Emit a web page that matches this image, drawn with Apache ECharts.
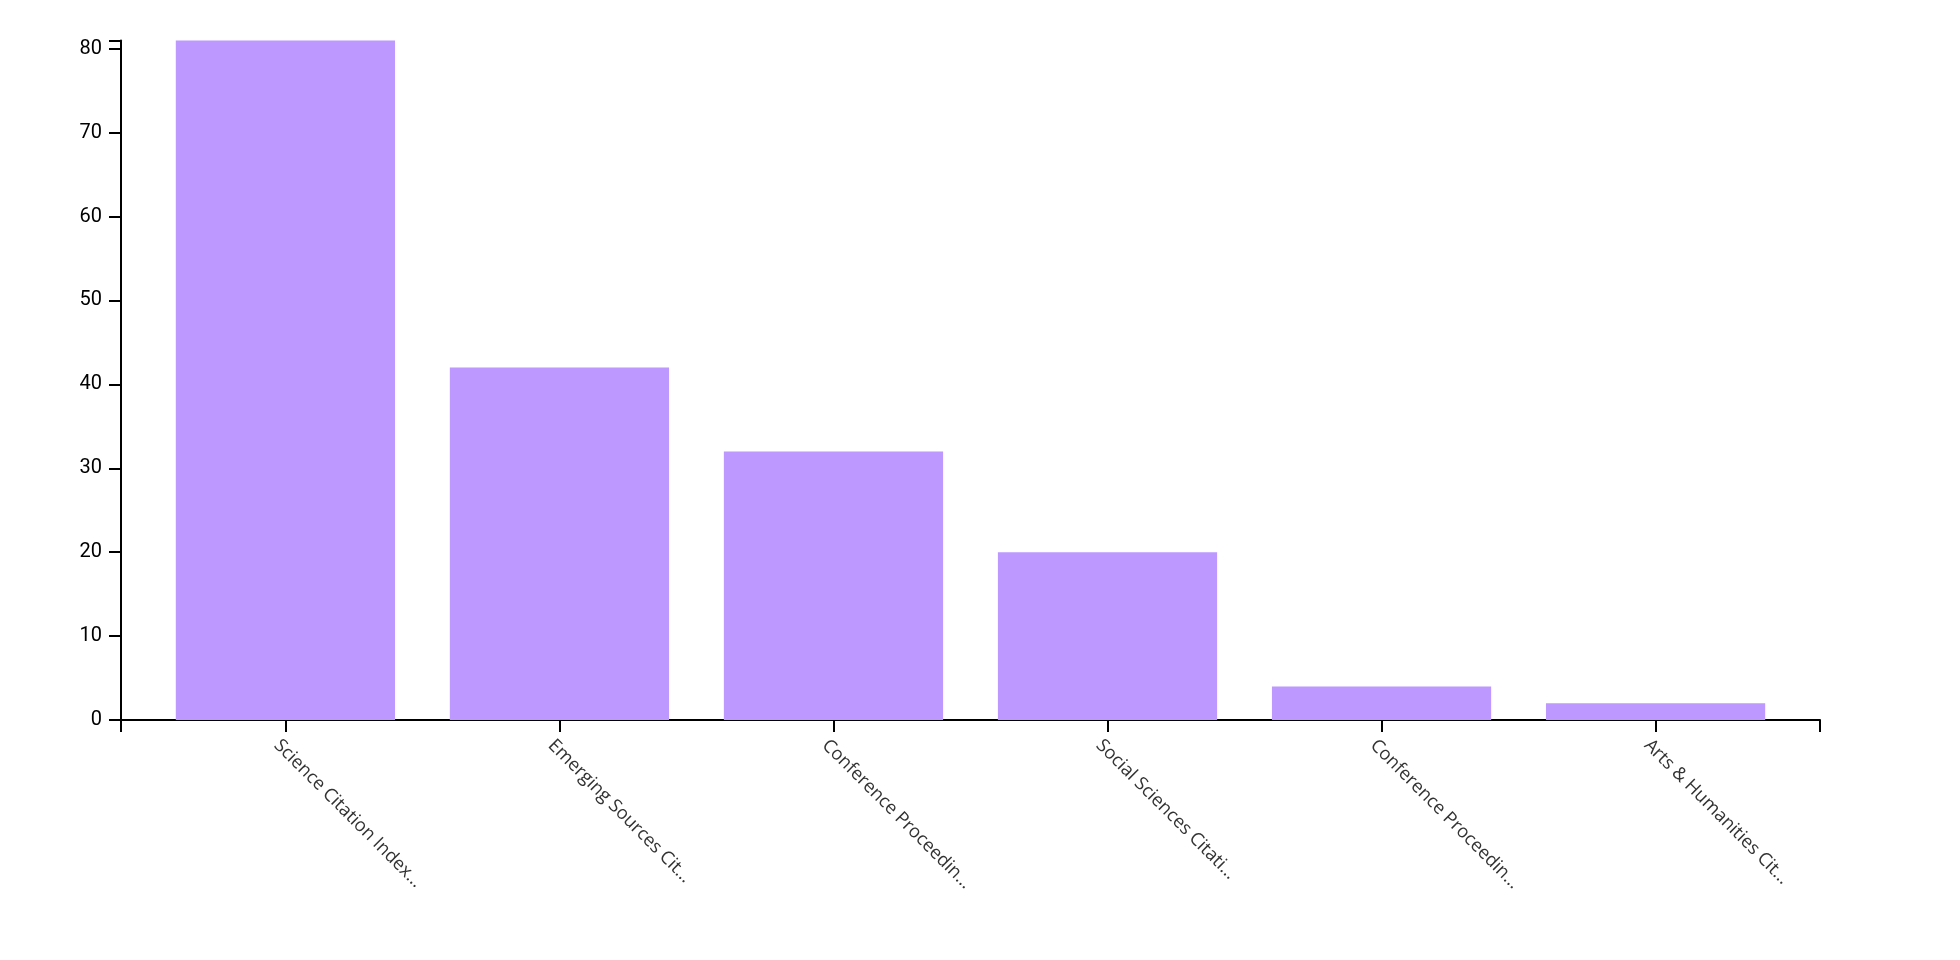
<!DOCTYPE html>
<html>
<head>
<meta charset="utf-8">
<script src="https://cdn.jsdelivr.net/npm/echarts@6/dist/echarts.min.js"></script>
<style>
html,body{margin:0;padding:0;background:#fff;}
#c{width:1960px;height:960px;}
</style>
</head>
<body>
<div id="c"></div>
<script>
var categories = [
  "Science Citation Index…",
  "Emerging Sources Cit…",
  "Conference Proceedin…",
  "Social Sciences Citati…",
  "Conference Proceedin…",
  "Arts & Humanities Cit…"
];
var values = [81, 42, 32, 20, 4, 2];
var yTicks = [0, 10, 20, 30, 40, 50, 60, 70, 80];
var yMax = 81;

(function () {
var chart = echarts.init(document.getElementById('c'), null, {renderer: 'canvas'});

// axis frame spans 121..1820; bands follow a padded band scale (step ~274)
var axLeft = 121, axRight = 1820;
var step = (axRight - axLeft) / 6.2;
var bandLeft = axLeft + 0.6 * step - 0.5 * step;
var bandRight = bandLeft + 6 * step;
var gTop = 40.4, gBottom = 240;

chart.setOption({
  animation: false,
  grid: [
    {left: bandLeft, right: 1960 - bandRight, top: gTop, bottom: gBottom},
    {left: axLeft, right: 1960 - axRight, top: gTop, bottom: gBottom}
  ],
  xAxis: [
    {
      type: 'category', gridIndex: 0, data: categories,
      axisLine: {show: false},
      axisTick: {show: true, alignWithLabel: true, length: 12, lineStyle: {color: '#000', width: 2}},
      axisLabel: {rotate: -45, margin: 14, fontFamily: 'Open Sans', fontSize: 18.3, color: '#333',
        interval: 0, align: 'left', verticalAlign: 'top', padding: [3, 0, 0, 0]}
    },
    {
      type: 'value', gridIndex: 1, min: 0, max: 1, interval: 1,
      axisLine: {show: true, lineStyle: {color: '#000', width: 2}},
      axisTick: {show: true, length: 12, lineStyle: {color: '#000', width: 2}},
      axisLabel: {show: false},
      splitLine: {show: false}
    }
  ],
  yAxis: [
    {type: 'value', gridIndex: 0, min: 0, max: yMax, show: false, splitLine: {show: false}},
    {
      type: 'value', gridIndex: 1, position: 'left', min: 0, max: yMax, interval: 10,
      axisLine: {show: true, lineStyle: {color: '#000', width: 2}},
      axisTick: {show: true, length: 12, lineStyle: {color: '#000', width: 2}},
      axisLabel: {
        margin: 19, fontFamily: 'Roboto', fontSize: 20, color: '#000',
        formatter: function (v) { return yTicks.indexOf(v) >= 0 ? String(v) : ''; }
      },
      splitLine: {show: false}
    },
    {
      type: 'value', gridIndex: 1, position: 'left', offset: 0, min: 0, max: yMax, interval: yMax,
      axisLine: {show: false},
      axisTick: {show: true, length: 12, lineStyle: {color: '#000', width: 2}},
      axisLabel: {show: false},
      splitLine: {show: false}
    }
  ],
  series: [
    {
      type: 'bar', xAxisIndex: 0, yAxisIndex: 0,
      data: values,
      barWidth: step * 0.8,
      itemStyle: {color: '#bc98ff'}
    }
  ]
});
})();
</script>
</body>
</html>
